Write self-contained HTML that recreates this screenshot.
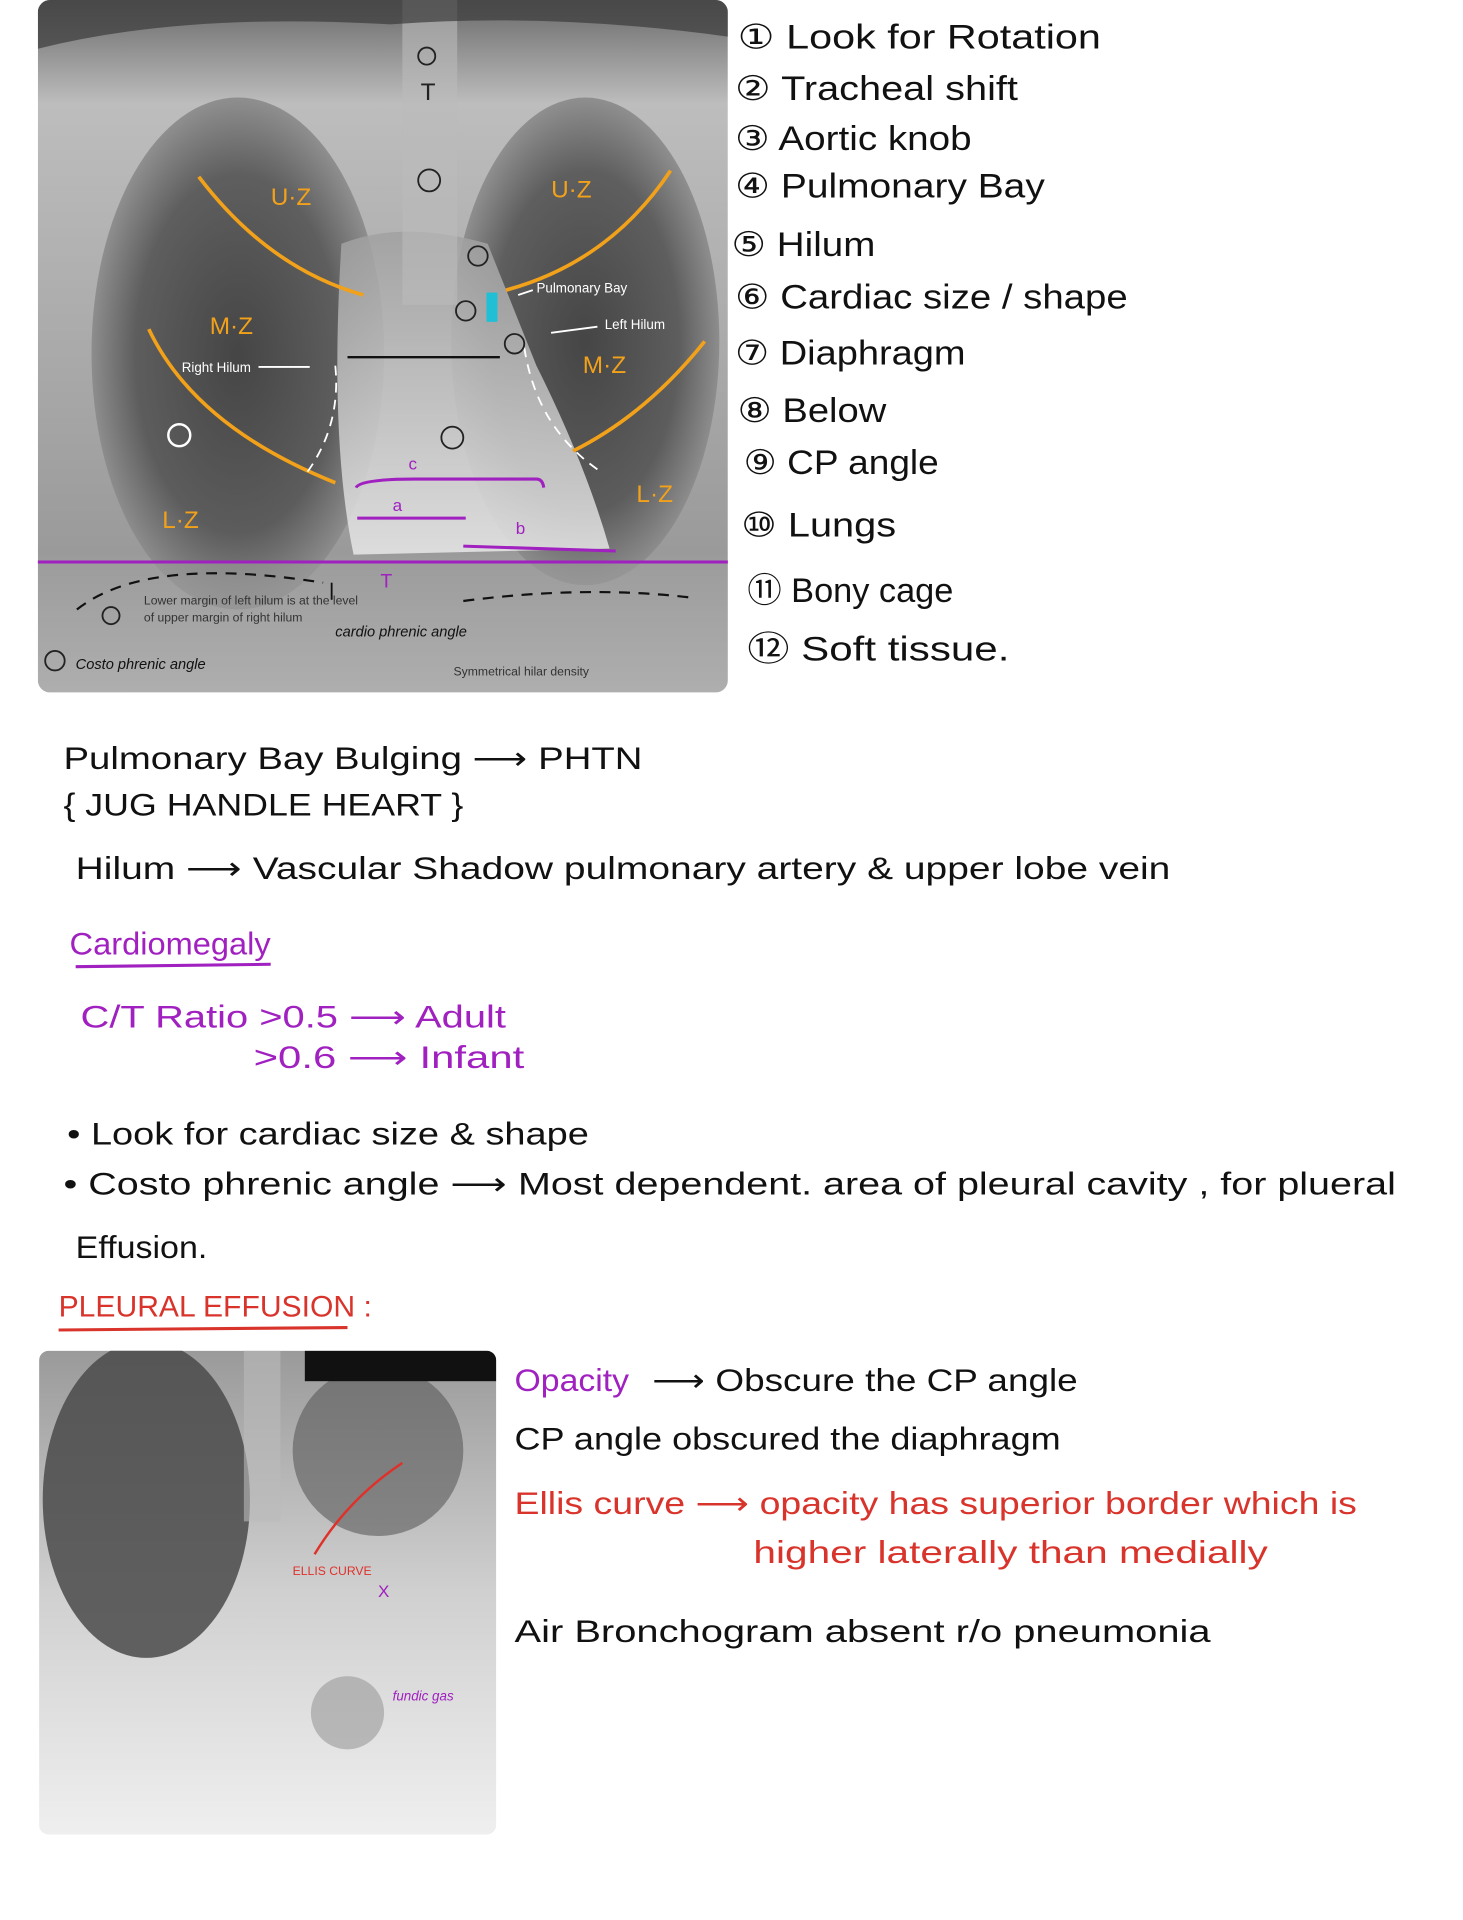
<!DOCTYPE html>
<html><head><meta charset="utf-8"><style>
html,body{margin:0;padding:0;background:#fff;}
svg{display:block;}
text{font-family:"Liberation Sans",sans-serif;}
</style></head><body>
<svg width="1463" height="1920" viewBox="0 0 1200 1575" xmlns="http://www.w3.org/2000/svg">
<defs>
<radialGradient id="lungL" cx="0.5" cy="0.5" r="0.5"><stop offset="0" stop-color="#3a3a3a"/><stop offset="0.7" stop-color="#555"/><stop offset="1" stop-color="#8a8a8a"/></radialGradient>
<linearGradient id="bg1" x1="0" y1="0" x2="0" y2="1"><stop offset="0" stop-color="#6a6a6a"/><stop offset="0.15" stop-color="#bdbdbd"/><stop offset="0.8" stop-color="#9a9a9a"/><stop offset="1" stop-color="#c8c8c8"/></linearGradient>
<linearGradient id="med" x1="0" y1="0" x2="0" y2="1"><stop offset="0" stop-color="#a0a0a0"/><stop offset="1" stop-color="#e8e8e8"/></linearGradient>
<linearGradient id="bg2" x1="0" y1="0" x2="0" y2="1"><stop offset="0" stop-color="#9a9a9a"/><stop offset="0.5" stop-color="#d0d0d0"/><stop offset="1" stop-color="#efefef"/></linearGradient>
<clipPath id="c2"><rect x="32" y="1108" width="375" height="397" rx="8"/></clipPath>
<clipPath id="c1"><rect x="31" y="0" width="566" height="568" rx="10"/></clipPath>
</defs>
<!-- X-ray 1 -->
<g clip-path="url(#c1)">
<rect x="31" y="0" width="566" height="568" fill="url(#bg1)"/>
<ellipse cx="195" cy="290" rx="120" ry="210" fill="url(#lungL)" opacity="0.9"/>
<ellipse cx="480" cy="280" rx="110" ry="200" fill="url(#lungL)" opacity="0.9"/>
<path d="M280 200 Q330 180 400 200 L440 300 Q480 380 500 450 L290 455 Q270 360 280 200Z" fill="url(#med)" opacity="0.85"/>
<rect x="330" y="0" width="45" height="250" fill="#bbb" opacity="0.6"/>
<rect x="31" y="462" width="566" height="106" fill="#9c9c9c" opacity="0.6"/>
<path d="M31 0 H597 V30 Q450 10 320 20 Q150 10 31 40Z" fill="#3a3a3a" opacity="0.7"/>
</g>
<g fill="none" stroke="#f2a11a" stroke-width="3">
<path d="M163 145 Q220 220 298 242"/><path d="M550 140 Q500 215 415 238"/>
<path d="M122 270 Q160 350 275 396"/><path d="M578 280 Q530 340 470 370"/>
</g>
<g fill="#f2a11a" font-size="20"><text x="222" y="168">U·Z</text><text x="452" y="162">U·Z</text><text x="172" y="274">M·Z</text><text x="478" y="306">M·Z</text><text x="133" y="433">L·Z</text><text x="522" y="412">L·Z</text></g>
<rect x="399" y="240" width="9" height="24" fill="#1fc0d6"/>
<g fill="#fff" font-size="11"><text x="440" y="240">Pulmonary Bay</text><text x="496" y="270">Left Hilum</text><text x="149" y="305">Right Hilum</text></g>
<g stroke="#fff" stroke-width="1.5"><line x1="212" y1="301" x2="254" y2="301"/><line x1="425" y1="242" x2="437" y2="238"/><line x1="452" y1="273" x2="490" y2="268"/></g>
<line x1="285" y1="293" x2="410" y2="293" stroke="#111" stroke-width="2"/>
<g fill="none" stroke="#fff" stroke-width="1.5" stroke-dasharray="8 6"><path d="M275 300 Q280 350 250 390"/><path d="M430 285 Q440 350 490 385"/></g>
<g fill="none" stroke="#222" stroke-width="1.5">
<circle cx="350" cy="46" r="7"/><circle cx="352" cy="148" r="9"/><circle cx="392" cy="210" r="8"/><circle cx="382" cy="255" r="8"/><circle cx="422" cy="282" r="8"/><circle cx="371" cy="359" r="9"/><circle cx="91" cy="505" r="7"/><circle cx="45" cy="542" r="8"/></g>
<circle cx="147" cy="357" r="9" fill="none" stroke="#fff" stroke-width="2"/>
<text x="345" y="82" font-size="20" fill="#222">T</text>
<g fill="none" stroke="#a020c0" stroke-width="2.5">
<line x1="31" y1="461" x2="597" y2="461"/><path d="M292 400 Q295 393 340 393 L440 393 Q445 393 446 400"/>
<line x1="293" y1="425" x2="382" y2="425"/><line x1="380" y1="448" x2="505" y2="452"/></g>
<g fill="#a020c0" font-size="14"><text x="335" y="385">c</text><text x="322" y="419">a</text><text x="423" y="438">b</text><text x="312" y="482" font-size="16">T</text></g>
<g fill="none" stroke="#111" stroke-width="1.8" stroke-dasharray="9 7"><path d="M63 500 Q120 455 265 478"/><path d="M380 493 Q480 480 565 490"/></g>
<line x1="272" y1="492" x2="272" y2="478" stroke="#111" stroke-width="1.5"/>
<g fill="#333" font-size="10"><text x="118" y="496">Lower margin of left hilum is at the level</text><text x="118" y="510">of upper margin of right hilum</text><text x="372" y="554">Symmetrical hilar density</text></g>
<g fill="#111" font-size="12" font-style="italic"><text x="275" y="522">cardio phrenic angle</text><text x="62" y="549">Costo phrenic angle</text></g>
<!-- list -->
<g fill="#111" font-size="28" lengthAdjust="spacingAndGlyphs">
<text x="605" y="40" textLength="298" lengthAdjust="spacingAndGlyphs">① Look for Rotation</text>
<text x="603" y="82" textLength="232" lengthAdjust="spacingAndGlyphs">② Tracheal shift</text>
<text x="603" y="123" textLength="194" lengthAdjust="spacingAndGlyphs">③ Aortic knob</text>
<text x="603" y="162" textLength="254" lengthAdjust="spacingAndGlyphs">④ Pulmonary Bay</text>
<text x="600" y="210" textLength="118" lengthAdjust="spacingAndGlyphs">⑤ Hilum</text>
<text x="603" y="253" textLength="322" lengthAdjust="spacingAndGlyphs">⑥ Cardiac size / shape</text>
<text x="603" y="299" textLength="189" lengthAdjust="spacingAndGlyphs">⑦ Diaphragm</text>
<text x="605" y="346" textLength="122" lengthAdjust="spacingAndGlyphs">⑧ Below</text>
<text x="610" y="389" textLength="160" lengthAdjust="spacingAndGlyphs">⑨ CP angle</text>
<text x="608" y="440" textLength="127" lengthAdjust="spacingAndGlyphs">⑩ Lungs</text>
<text x="613" y="494" textLength="169" lengthAdjust="spacingAndGlyphs">⑪ Bony cage</text>
<text x="613" y="542" textLength="215" lengthAdjust="spacingAndGlyphs">⑫ Soft tissue.</text>
</g>
<!-- notes -->
<g fill="#111" font-size="26">
<text x="52" y="631" textLength="475" lengthAdjust="spacingAndGlyphs">Pulmonary Bay Bulging ⟶ PHTN</text>
<text x="52" y="669" textLength="328" lengthAdjust="spacingAndGlyphs">{ JUG HANDLE HEART }</text>
<text x="62" y="721" textLength="898" lengthAdjust="spacingAndGlyphs">Hilum ⟶ Vascular Shadow pulmonary artery &amp; upper lobe vein</text>
<text x="55" y="939" textLength="428" lengthAdjust="spacingAndGlyphs">• Look for cardiac size &amp; shape</text>
<text x="52" y="980" textLength="1093" lengthAdjust="spacingAndGlyphs">• Costo phrenic angle ⟶ Most dependent. area of pleural cavity , for plueral</text>
<text x="62" y="1032" textLength="108" lengthAdjust="spacingAndGlyphs">Effusion.</text>
</g>
<g fill="#a020c0" font-size="26">
<text x="57" y="783" textLength="165" lengthAdjust="spacingAndGlyphs">Cardiomegaly</text>
<text x="66" y="843" textLength="349" lengthAdjust="spacingAndGlyphs">C/T Ratio &gt;0.5 ⟶ Adult</text>
<text x="208" y="876" textLength="222" lengthAdjust="spacingAndGlyphs">&gt;0.6 ⟶ Infant</text>
</g>
<line x1="62" y1="793" x2="222" y2="791" stroke="#a020c0" stroke-width="2.5"/>
<text x="48" y="1080" font-size="24" fill="#d9342b" textLength="257" lengthAdjust="spacingAndGlyphs">PLEURAL EFFUSION :</text>
<line x1="48" y1="1091" x2="285" y2="1089" stroke="#d9342b" stroke-width="2.5"/>
<!-- Xray 2 -->
<g clip-path="url(#c2)">
<rect x="32" y="1108" width="375" height="397" fill="url(#bg2)"/>
<ellipse cx="120" cy="1230" rx="85" ry="130" fill="#4a4a4a" opacity="0.85"/>
<ellipse cx="310" cy="1190" rx="70" ry="70" fill="#5a5a5a" opacity="0.6"/>
<rect x="250" y="1108" width="157" height="25" fill="#111"/>
<rect x="200" y="1108" width="30" height="140" fill="#bbb" opacity="0.6"/>
<circle cx="285" cy="1405" r="30" fill="#999" opacity="0.6"/>
</g>
<path d="M258 1275 Q285 1230 330 1200" fill="none" stroke="#e0302a" stroke-width="2"/>
<text x="240" y="1292" font-size="10" fill="#e0302a">ELLIS CURVE</text>
<text x="310" y="1310" font-size="14" fill="#a020c0">X</text>
<text x="322" y="1395" font-size="11" fill="#a020c0" font-style="italic">fundic gas</text>
<!-- right notes -->
<g font-size="26">
<text x="422" y="1141" fill="#a020c0" textLength="94" lengthAdjust="spacingAndGlyphs">Opacity</text>
<text x="535" y="1141" fill="#111" textLength="349" lengthAdjust="spacingAndGlyphs">⟶ Obscure the CP angle</text>
<text x="422" y="1189" fill="#111" textLength="448" lengthAdjust="spacingAndGlyphs">CP angle obscured the diaphragm</text>
<text x="422" y="1242" fill="#d9342b" textLength="691" lengthAdjust="spacingAndGlyphs">Ellis curve ⟶ opacity has superior border which is</text>
<text x="618" y="1282" fill="#d9342b" textLength="422" lengthAdjust="spacingAndGlyphs">higher laterally than medially</text>
<text x="422" y="1347" fill="#111" textLength="571" lengthAdjust="spacingAndGlyphs">Air Bronchogram absent r/o pneumonia</text>
</g>
</svg>
</body></html>
